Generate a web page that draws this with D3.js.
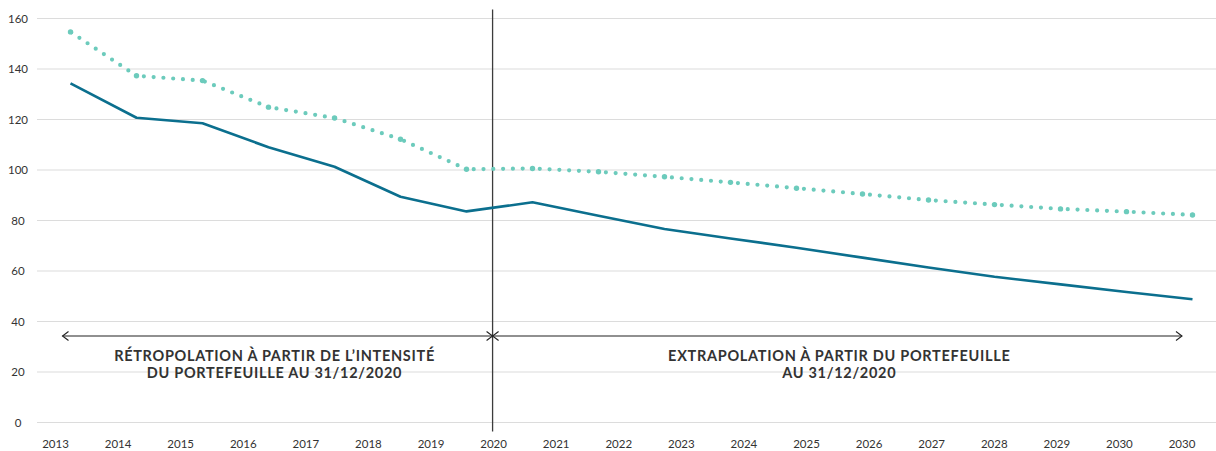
<!DOCTYPE html>
<html lang="fr">
<head>
<meta charset="utf-8">
<script src="https://cdn.jsdelivr.net/npm/d3@7"></script>
<style>
  html, body { margin: 0; padding: 0; background: #fff; }
  svg { display: block; font-family: Lato, "Open Sans", sans-serif; }
</style>
</head>
<body>
<svg id="chart" width="1216" height="451"></svg>
<script>
// Years plotted by both series
const years = [2013, 2014, 2015, 2016, 2017, 2018, 2019, 2020, 2021, 2022,
               2023, 2024, 2025, 2026, 2027, 2028, 2029, 2030];

// Portfolio intensity (solid line)
const portfolio = [134.3, 120.7, 118.5, 109.0, 101.3, 89.4, 83.6, 87.2, 81.9, 76.6,
                   72.9, 69.2, 65.3, 61.4, 57.7, 54.7, 51.7, 48.8];

// Reference trajectory (dotted line)
const trajectory = [154.7, 137.3, 135.4, 124.9, 120.6, 112.2, 100.3, 100.6, 99.3, 97.3,
                    95.1, 92.8, 90.5, 88.1, 86.3, 84.6, 83.5, 82.2];

// Axis labels
const xTickLabels = ["2013", "2014", "2015", "2016", "2017", "2018", "2019", "2020", "2021",
                     "2022", "2023", "2024", "2025", "2026", "2027", "2028", "2029", "2030", "2030"];
const yTicks = [0, 20, 40, 60, 80, 100, 120, 140, 160];

// Annotation texts
const leftNote = ["RÉTROPOLATION À PARTIR DE L’INTENSITÉ", "DU PORTEFEUILLE AU 31/12/2020"];
const rightNote = ["EXTRAPOLATION À PARTIR DU PORTEFEUILLE", "AU 31/12/2020"];
const dividerLabel = "2020";

const svg = d3.select("#chart");
const W = 1216;

const y = d3.scaleLinear().domain([0, 160]).range([422.5, 18.5]);
const x = d3.scalePoint().domain(years).range([70.5, 1192.5]);
const xl = d3.scalePoint().domain(d3.range(xTickLabels.length)).range([55.5, 1182]);

const textColor = "#333";

// Horizontal grid + y labels
const yAxis = svg.append("g");
yAxis.selectAll("line").data(yTicks).join("line")
  .attr("x1", 37).attr("x2", W)
  .attr("y1", d => y(d)).attr("y2", d => y(d))
  .attr("stroke", "#dcdcdc").attr("stroke-width", 1.2);
yAxis.selectAll("text").data(yTicks).join("text")
  .attr("x", 18).attr("y", d => y(d))
  .attr("dy", "0.36em")
  .attr("text-anchor", "middle")
  .attr("font-size", 11.5).attr("fill", textColor)
  .text(d => d);

// x labels
svg.append("g").selectAll("text").data(xTickLabels).join("text")
  .attr("x", (d, i) => xl(i)).attr("y", 444)
  .attr("dy", "0.36em")
  .attr("text-anchor", "middle")
  .attr("font-size", 11.5).attr("fill", textColor)
  .text(d => d);

// Divider between retropolation and extrapolation
const divX = xl(xTickLabels.indexOf(dividerLabel)) - 1;
svg.append("line")
  .attr("x1", divX).attr("x2", divX)
  .attr("y1", y(160) - 9).attr("y2", y(0) + 9)
  .attr("stroke", "#3c3c3c").attr("stroke-width", 1.3);

// Solid series
svg.append("path")
  .datum(portfolio)
  .attr("fill", "none")
  .attr("stroke", "#0b6f8e")
  .attr("stroke-width", 2.6)
  .attr("stroke-linejoin", "round")
  .attr("d", d3.line().x((d, i) => x(years[i])).y(d => y(d)));

// Dotted series: each segment is dotted from its right end, vertices marked
const dotColor = "#6ccbbc";
const segs = d3.pairs(trajectory.map((v, i) => [x(years[i]), y(v)]));
svg.append("g").selectAll("path").data(segs).join("path")
  .attr("fill", "none")
  .attr("stroke", dotColor)
  .attr("stroke-width", 4.2)
  .attr("stroke-linecap", "round")
  .attr("stroke-dasharray", "0 9.8")
  .attr("d", d => d3.line()([d[1], d[0]]));
svg.append("g").selectAll("circle").data(trajectory).join("circle")
  .attr("cx", (d, i) => x(years[i])).attr("cy", d => y(d))
  .attr("r", 2.7).attr("fill", dotColor);

// Span arrows
const arrowY = 336;
const leftStart = xl(0) + 7;
const rightEnd = xl(xTickLabels.length - 1);
function spanArrow(x1, x2) {
  const g = svg.append("g").attr("fill", "none").attr("stroke", "#222").attr("stroke-width", 1.1);
  g.append("line").attr("x1", x1).attr("x2", x2).attr("y1", arrowY).attr("y2", arrowY);
  g.append("path").attr("d", `M${x1 + 6},${arrowY - 4.5}L${x1},${arrowY}L${x1 + 6},${arrowY + 4.5}`);
  g.append("path").attr("d", `M${x2 - 6},${arrowY - 4.5}L${x2},${arrowY}L${x2 - 6},${arrowY + 4.5}`);
}
spanArrow(leftStart, divX);
spanArrow(divX, rightEnd);

function note(lines, cx) {
  svg.append("text")
    .attr("text-anchor", "middle")
    .attr("font-size", 14.5).attr("font-weight", 700)
    .attr("letter-spacing", 0.7)
    .attr("fill", textColor)
    .selectAll("tspan").data(lines).join("tspan")
    .attr("x", cx).attr("y", (d, i) => 361 + i * 17)
    .text(d => d);
}
note(leftNote, (leftStart + divX) / 2 - 3);
note(rightNote, (divX + rightEnd) / 2 + 2);
</script>
</body>
</html>
